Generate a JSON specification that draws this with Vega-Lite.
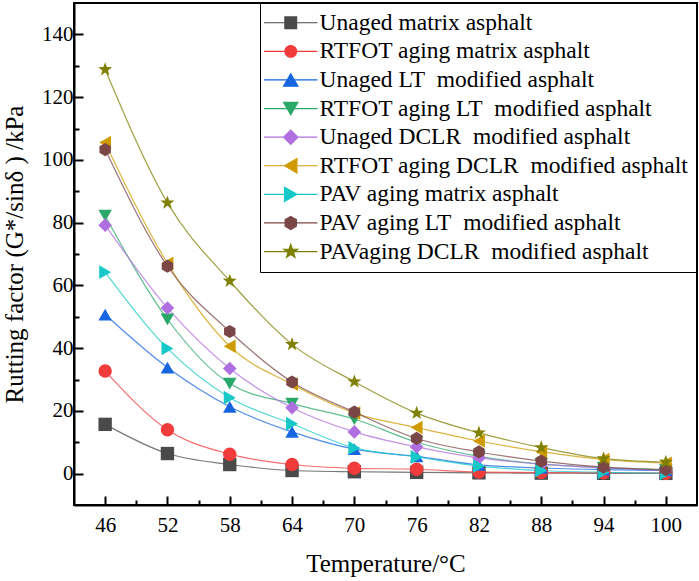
{
  "$schema": "https://vega.github.io/schema/vega-lite/v6.json",
  "width": 623,
  "height": 502,
  "autosize": {"type": "none"},
  "padding": {"left": 74, "top": 3, "right": 2, "bottom": 76},
  "background": "white",
  "config": {
    "view": {"stroke": "black", "strokeWidth": 2},
    "font": "Liberation Serif",
    "axis": {
      "domainColor": "black", "domainWidth": 2, "tickColor": "black", "tickWidth": 2,
      "labelFont": "Liberation Serif", "labelFontSize": 21, "labelColor": "black",
      "titleFont": "Liberation Serif", "titleFontSize": 25, "titleFontWeight": "normal", "titleColor": "black",
      "grid": false, "labelOverlap": false, "labelFlush": false
    }
  },
  "data": {
    "values": [
      {"t": 46, "v": 15.7, "s": "Unaged matrix asphalt"},
      {"t": 52, "v": 6.4, "s": "Unaged matrix asphalt"},
      {"t": 58, "v": 2.9, "s": "Unaged matrix asphalt"},
      {"t": 64, "v": 1.0, "s": "Unaged matrix asphalt"},
      {"t": 70, "v": 0.6, "s": "Unaged matrix asphalt"},
      {"t": 76, "v": 0.4, "s": "Unaged matrix asphalt"},
      {"t": 82, "v": 0.25, "s": "Unaged matrix asphalt"},
      {"t": 88, "v": 0.15, "s": "Unaged matrix asphalt"},
      {"t": 94, "v": 0.1, "s": "Unaged matrix asphalt"},
      {"t": 100, "v": 0.08, "s": "Unaged matrix asphalt"},
      {"t": 46, "v": 32.7, "s": "RTFOT aging matrix asphalt"},
      {"t": 52, "v": 14.0, "s": "RTFOT aging matrix asphalt"},
      {"t": 58, "v": 6.2, "s": "RTFOT aging matrix asphalt"},
      {"t": 64, "v": 2.9, "s": "RTFOT aging matrix asphalt"},
      {"t": 70, "v": 1.7, "s": "RTFOT aging matrix asphalt"},
      {"t": 76, "v": 1.4, "s": "RTFOT aging matrix asphalt"},
      {"t": 82, "v": 0.5, "s": "RTFOT aging matrix asphalt"},
      {"t": 88, "v": 0.35, "s": "RTFOT aging matrix asphalt"},
      {"t": 94, "v": 0.25, "s": "RTFOT aging matrix asphalt"},
      {"t": 100, "v": 0.15, "s": "RTFOT aging matrix asphalt"},
      {"t": 46, "v": 50.7, "s": "Unaged LT\u00a0 modified asphalt"},
      {"t": 52, "v": 33.8, "s": "Unaged LT\u00a0 modified asphalt"},
      {"t": 58, "v": 21.3, "s": "Unaged LT\u00a0 modified asphalt"},
      {"t": 64, "v": 13.3, "s": "Unaged LT\u00a0 modified asphalt"},
      {"t": 70, "v": 7.8, "s": "Unaged LT\u00a0 modified asphalt"},
      {"t": 76, "v": 5.5, "s": "Unaged LT\u00a0 modified asphalt"},
      {"t": 82, "v": 2.8, "s": "Unaged LT\u00a0 modified asphalt"},
      {"t": 88, "v": 1.8, "s": "Unaged LT\u00a0 modified asphalt"},
      {"t": 94, "v": 1.3, "s": "Unaged LT\u00a0 modified asphalt"},
      {"t": 100, "v": 1.0, "s": "Unaged LT\u00a0 modified asphalt"},
      {"t": 46, "v": 82.2, "s": "RTFOT aging LT\u00a0 modified asphalt"},
      {"t": 52, "v": 49.2, "s": "RTFOT aging LT\u00a0 modified asphalt"},
      {"t": 58, "v": 28.7, "s": "RTFOT aging LT\u00a0 modified asphalt"},
      {"t": 64, "v": 22.3, "s": "RTFOT aging LT\u00a0 modified asphalt"},
      {"t": 70, "v": 17.4, "s": "RTFOT aging LT\u00a0 modified asphalt"},
      {"t": 76, "v": 10.0, "s": "RTFOT aging LT\u00a0 modified asphalt"},
      {"t": 82, "v": 5.5, "s": "RTFOT aging LT\u00a0 modified asphalt"},
      {"t": 88, "v": 3.0, "s": "RTFOT aging LT\u00a0 modified asphalt"},
      {"t": 94, "v": 1.9, "s": "RTFOT aging LT\u00a0 modified asphalt"},
      {"t": 100, "v": 1.2, "s": "RTFOT aging LT\u00a0 modified asphalt"},
      {"t": 46, "v": 79.2, "s": "Unaged DCLR\u00a0 modified asphalt"},
      {"t": 52, "v": 52.8, "s": "Unaged DCLR\u00a0 modified asphalt"},
      {"t": 58, "v": 33.5, "s": "Unaged DCLR\u00a0 modified asphalt"},
      {"t": 64, "v": 21.0, "s": "Unaged DCLR\u00a0 modified asphalt"},
      {"t": 70, "v": 13.3, "s": "Unaged DCLR\u00a0 modified asphalt"},
      {"t": 76, "v": 8.5, "s": "Unaged DCLR\u00a0 modified asphalt"},
      {"t": 82, "v": 5.0, "s": "Unaged DCLR\u00a0 modified asphalt"},
      {"t": 88, "v": 3.0, "s": "Unaged DCLR\u00a0 modified asphalt"},
      {"t": 94, "v": 1.8, "s": "Unaged DCLR\u00a0 modified asphalt"},
      {"t": 100, "v": 1.0, "s": "Unaged DCLR\u00a0 modified asphalt"},
      {"t": 46, "v": 105.5, "s": "RTFOT aging DCLR\u00a0 modified asphalt"},
      {"t": 52, "v": 67.0, "s": "RTFOT aging DCLR\u00a0 modified asphalt"},
      {"t": 58, "v": 40.6, "s": "RTFOT aging DCLR\u00a0 modified asphalt"},
      {"t": 64, "v": 28.5, "s": "RTFOT aging DCLR\u00a0 modified asphalt"},
      {"t": 70, "v": 19.3, "s": "RTFOT aging DCLR\u00a0 modified asphalt"},
      {"t": 76, "v": 14.7, "s": "RTFOT aging DCLR\u00a0 modified asphalt"},
      {"t": 82, "v": 10.4, "s": "RTFOT aging DCLR\u00a0 modified asphalt"},
      {"t": 88, "v": 7.0, "s": "RTFOT aging DCLR\u00a0 modified asphalt"},
      {"t": 94, "v": 4.5, "s": "RTFOT aging DCLR\u00a0 modified asphalt"},
      {"t": 100, "v": 3.3, "s": "RTFOT aging DCLR\u00a0 modified asphalt"},
      {"t": 46, "v": 64.2, "s": "PAV aging matrix asphalt"},
      {"t": 52, "v": 39.9, "s": "PAV aging matrix asphalt"},
      {"t": 58, "v": 24.2, "s": "PAV aging matrix asphalt"},
      {"t": 64, "v": 15.9, "s": "PAV aging matrix asphalt"},
      {"t": 70, "v": 8.2, "s": "PAV aging matrix asphalt"},
      {"t": 76, "v": 5.3, "s": "PAV aging matrix asphalt"},
      {"t": 82, "v": 2.4, "s": "PAV aging matrix asphalt"},
      {"t": 88, "v": 1.0, "s": "PAV aging matrix asphalt"},
      {"t": 94, "v": 0.4, "s": "PAV aging matrix asphalt"},
      {"t": 100, "v": 0.1, "s": "PAV aging matrix asphalt"},
      {"t": 46, "v": 103.3, "s": "PAV aging LT\u00a0 modified asphalt"},
      {"t": 52, "v": 66.1, "s": "PAV aging LT\u00a0 modified asphalt"},
      {"t": 58, "v": 45.3, "s": "PAV aging LT\u00a0 modified asphalt"},
      {"t": 64, "v": 29.2, "s": "PAV aging LT\u00a0 modified asphalt"},
      {"t": 70, "v": 19.6, "s": "PAV aging LT\u00a0 modified asphalt"},
      {"t": 76, "v": 11.2, "s": "PAV aging LT\u00a0 modified asphalt"},
      {"t": 82, "v": 6.9, "s": "PAV aging LT\u00a0 modified asphalt"},
      {"t": 88, "v": 4.0, "s": "PAV aging LT\u00a0 modified asphalt"},
      {"t": 94, "v": 2.1, "s": "PAV aging LT\u00a0 modified asphalt"},
      {"t": 100, "v": 1.3, "s": "PAV aging LT\u00a0 modified asphalt"},
      {"t": 46, "v": 128.8, "s": "PAVaging DCLR\u00a0 modified asphalt"},
      {"t": 52, "v": 86.3, "s": "PAVaging DCLR\u00a0 modified asphalt"},
      {"t": 58, "v": 61.4, "s": "PAVaging DCLR\u00a0 modified asphalt"},
      {"t": 64, "v": 41.2, "s": "PAVaging DCLR\u00a0 modified asphalt"},
      {"t": 70, "v": 29.3, "s": "PAVaging DCLR\u00a0 modified asphalt"},
      {"t": 76, "v": 19.3, "s": "PAVaging DCLR\u00a0 modified asphalt"},
      {"t": 82, "v": 13.0, "s": "PAVaging DCLR\u00a0 modified asphalt"},
      {"t": 88, "v": 8.3, "s": "PAVaging DCLR\u00a0 modified asphalt"},
      {"t": 94, "v": 4.8, "s": "PAVaging DCLR\u00a0 modified asphalt"},
      {"t": 100, "v": 3.7, "s": "PAVaging DCLR\u00a0 modified asphalt"}
    ]
  },
  "encoding": {
    "x": {
      "field": "t", "type": "quantitative",
      "scale": {"domain": [43, 103], "nice": false, "zero": false},
      "axis": {
        "title": "Temperature/°C",
        "values": [46, 49, 52, 55, 58, 61, 64, 67, 70, 73, 76, 79, 82, 85, 88, 91, 94, 97, 100],
        "labelExpr": "(datum.value - 46) % 6 === 0 ? datum.label : ''",
        "tickSize": {"condition": {"test": "(datum.value - 46) % 6 === 0", "value": -9}, "value": -5},
        "labelPadding": 18,
        "titlePadding": 12
      }
    },
    "y": {
      "field": "v", "type": "quantitative",
      "scale": {"domain": [-10, 150], "nice": false, "zero": false},
      "axis": {
        "title": "Rutting factor (G*/sinδ ) /kPa",
        "values": [0, 10, 20, 30, 40, 50, 60, 70, 80, 90, 100, 110, 120, 130, 140],
        "labelExpr": "datum.value % 20 === 0 ? datum.label : ''",
        "tickSize": {"condition": {"test": "datum.value % 20 === 0", "value": -9}, "value": -5},
        "labelPadding": 10,
        "titlePadding": 14
      }
    },
    "color": {
      "field": "s", "type": "nominal",
      "scale": {
        "domain": ["Unaged matrix asphalt", "RTFOT aging matrix asphalt", "Unaged LT\u00a0 modified asphalt", "RTFOT aging LT\u00a0 modified asphalt", "Unaged DCLR\u00a0 modified asphalt", "RTFOT aging DCLR\u00a0 modified asphalt", "PAV aging matrix asphalt", "PAV aging LT\u00a0 modified asphalt", "PAVaging DCLR\u00a0 modified asphalt"],
        "range": ["#4a4a4a", "#f23b3b", "#1766e0", "#2aa86a", "#b06fe0", "#d09b00", "#18c8c8", "#7b4646", "#7f7f00"]
      },
      "legend": {
        "orient": "none", "legendX": 186, "legendY": 0, "title": null,
        "strokeColor": "black", "padding": 8,
        "labelFont": "Liberation Serif", "labelFontSize": 23.5, "labelColor": "black", "labelLimit": 0,
        "symbolSize": 170, "symbolOffset": 11, "labelOffset": 17, "rowPadding": 3.6,
        "encoding": {
          "symbols": {
            "shape": {"value": {"expr": "{'Unaged matrix asphalt': 'M-4.1,0H4.1M-0.9,-0.9H0.9V0.9H-0.9Z', 'RTFOT aging matrix asphalt': 'M-4.1,0H4.1M-0.9,0A0.9,0.9,0,1,1,0.9,0A0.9,0.9,0,1,1,-0.9,0Z', 'Unaged LT\u00a0 modified asphalt': 'M-4.1,0H4.1M0,-0.95L1.1,0.95L-1.1,0.95Z', 'RTFOT aging LT\u00a0 modified asphalt': 'M-4.1,0H4.1M0,0.95L1.1,-0.95L-1.1,-0.95Z', 'Unaged DCLR\u00a0 modified asphalt': 'M-4.1,0H4.1M-1.1,0L0,-1.1L1.1,0L0,1.1Z', 'RTFOT aging DCLR\u00a0 modified asphalt': 'M-4.1,0H4.1M-0.95,0L0.95,-1.1L0.95,1.1Z', 'PAV aging matrix asphalt': 'M-4.1,0H4.1M0.95,0L-0.95,-1.1L-0.95,1.1Z', 'PAV aging LT\u00a0 modified asphalt': 'M-4.1,0H4.1M0,-1L0.866,-0.5L0.866,0.5L0,1L-0.866,0.5L-0.866,-0.5Z', 'PAVaging DCLR\u00a0 modified asphalt': 'M-4.1,0H4.1M0,-1.1L0.26,-0.36L1.05,-0.34L0.42,0.14L0.65,0.89L0,0.44L-0.65,0.89L-0.42,0.14L-1.05,-0.34L-0.26,-0.36Z'}[datum.value]"}},
            "stroke": {"value": {"expr": "{'Unaged matrix asphalt': '#888888', 'RTFOT aging matrix asphalt': '#ff7a7a', 'Unaged LT\u00a0 modified asphalt': '#5a8ff0', 'RTFOT aging LT\u00a0 modified asphalt': '#5cc090', 'Unaged DCLR\u00a0 modified asphalt': '#c69aec', 'RTFOT aging DCLR\u00a0 modified asphalt': '#e0b84a', 'PAV aging matrix asphalt': '#5adada', 'PAV aging LT\u00a0 modified asphalt': '#b89a9a', 'PAVaging DCLR\u00a0 modified asphalt': '#b8b870'}[datum.value]"}},
            "strokeWidth": {"value": 1.2},
            "opacity": {"value": 1},
            "fillOpacity": {"value": 1},
            "strokeOpacity": {"value": 1}
          }
        }
      }
    }
  },
  "layer": [
    {
      "mark": {"type": "line", "interpolate": "monotone", "strokeWidth": 1.2, "opacity": 0.75}
    },
    {
      "mark": {"type": "point", "filled": true, "opacity": 1},
      "encoding": {
        "shape": {
          "field": "s", "type": "nominal", "legend": null,
          "scale": {
            "domain": ["PAVaging DCLR\u00a0 modified asphalt", "PAV aging LT\u00a0 modified asphalt", "PAV aging matrix asphalt", "RTFOT aging DCLR\u00a0 modified asphalt", "Unaged DCLR\u00a0 modified asphalt", "RTFOT aging LT\u00a0 modified asphalt", "Unaged LT\u00a0 modified asphalt", "RTFOT aging matrix asphalt", "Unaged matrix asphalt"],
            "range": ["M0,-1.1L0.26,-0.36L1.05,-0.34L0.42,0.14L0.65,0.89L0,0.44L-0.65,0.89L-0.42,0.14L-1.05,-0.34L-0.26,-0.36Z", "M0,-1L0.866,-0.5L0.866,0.5L0,1L-0.866,0.5L-0.866,-0.5Z", "triangle-right", "triangle-left", "diamond", "triangle-down", "triangle-up", "circle", "square"]
          }
        },
        "size": {
          "field": "s", "type": "nominal", "legend": null,
          "scale": {
            "domain": ["PAV aging LT\u00a0 modified asphalt", "PAVaging DCLR\u00a0 modified asphalt", "Unaged matrix asphalt", "RTFOT aging matrix asphalt", "Unaged LT\u00a0 modified asphalt", "RTFOT aging LT\u00a0 modified asphalt", "Unaged DCLR\u00a0 modified asphalt", "RTFOT aging DCLR\u00a0 modified asphalt", "PAV aging matrix asphalt"],
            "range": [175, 190, 135, 140, 200, 200, 180, 200, 200]
          }
        }
      }
    }
  ]
}
